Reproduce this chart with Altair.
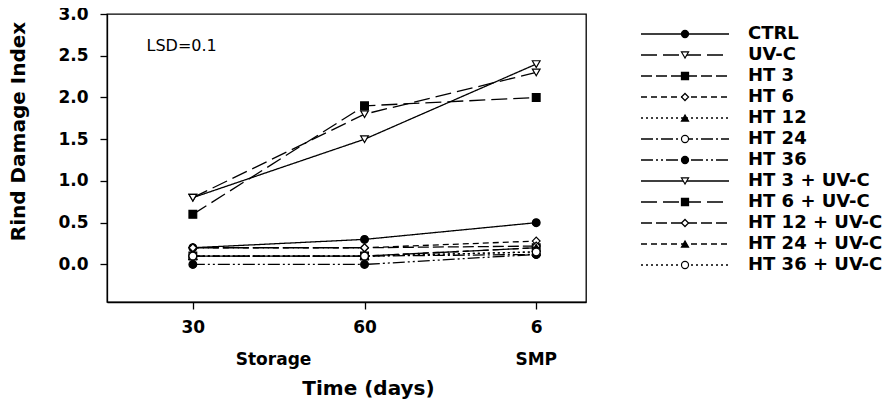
import altair as alt
import pandas as pd

# ---------------- data ----------------
series = ["CTRL", "UV-C", "HT 3", "HT 6", "HT 12", "HT 24", "HT 36",
          "HT 3 + UV-C", "HT 6 + UV-C", "HT 12 + UV-C", "HT 24 + UV-C", "HT 36 + UV-C"]
tick_labels = ["30", "60", "6"]
group_labels = ["Storage", "SMP"]

ctrl      = [0.20, 0.30, 0.50]
uvc       = [0.80, 1.80, 2.30]
ht3       = [0.10, 0.10, 0.20]
ht6       = [0.20, 0.20, 0.28]
ht12      = [0.10, 0.10, 0.15]
ht24      = [0.10, 0.10, 0.12]
ht36      = [0.00, 0.00, 0.12]
ht3_uvc   = [0.80, 1.50, 2.40]
ht6_uvc   = [0.60, 1.90, 2.00]
ht12_uvc  = [0.20, 0.20, 0.22]
ht24_uvc  = [0.10, 0.10, 0.20]
ht36_uvc  = [0.10, 0.10, 0.15]

values = [ctrl, uvc, ht3, ht6, ht12, ht24, ht36,
          ht3_uvc, ht6_uvc, ht12_uvc, ht24_uvc, ht36_uvc]

# ---------------- styles ----------------
dashes = [[1, 0], [16, 6], [11, 4], [6, 4], [2, 3], [12, 3, 2, 3], [12, 3, 2, 3, 2, 3],
          [1, 0], [16, 6], [11, 4], [6, 4], [2, 3]]
shapes = ["circle", "triangle-down", "square", "diamond", "triangle-up", "circle", "circle",
          "triangle-down", "square", "diamond", "triangle-up", "circle"]
fills = ["black", "white", "black", "white", "black", "white", "black",
         "white", "black", "white", "black", "white"]

FONT = "DejaVu Sans"

rows = []
for s, vals in zip(series, values):
    for i, v in enumerate(vals):
        rows.append({"series": s, "t": i, "value": v})
df = pd.DataFrame(rows)

dash_scale = alt.Scale(domain=series, range=dashes)
shape_scale = alt.Scale(domain=series, range=shapes)
fill_scale = alt.Scale(domain=series, range=fills)

label_expr = "datum.value == 0 ? '%s' : datum.value == 1 ? '%s' : '%s'" % tuple(tick_labels)

x_enc = alt.X("t:Q",
              scale=alt.Scale(domain=[-0.5, 2.29], nice=False, zero=False),
              axis=alt.Axis(values=[0, 1, 2], labelExpr=label_expr, title="Time (days)",
                            grid=False, tickSize=7, tickWidth=1.3, domainWidth=1.3,
                            domainColor="black", tickColor="black",
                            labelFont=FONT, labelFontSize=17, labelFontWeight="bold",
                            labelColor="black", labelPadding=10,
                            titleFont=FONT, titleFontSize=20, titleFontWeight="bold",
                            titleColor="black", titlePadding=43, titleX=261))
y_enc = alt.Y("value:Q",
              scale=alt.Scale(domain=[-0.45, 3.0], nice=False, zero=False),
              axis=alt.Axis(values=[0, 0.5, 1.0, 1.5, 2.0, 2.5, 3.0], format=".1f",
                            title="Rind Damage Index",
                            grid=False, tickSize=7, tickWidth=1.3, domainWidth=1.3,
                            domainColor="black", tickColor="black",
                            labelFont=FONT, labelFontSize=17, labelFontWeight="bold",
                            labelColor="black", labelPadding=12,
                            titleFont=FONT, titleFontSize=20, titleFontWeight="bold",
                            titleColor="black", titlePadding=29, titleY=117))

base = alt.Chart(df)

lines = base.mark_line(color="black", strokeWidth=1.3).encode(
    x=x_enc, y=y_enc, detail="series:N",
    strokeDash=alt.StrokeDash("series:N", scale=dash_scale, legend=None),
)

points = base.mark_point(filled=True, stroke="black", strokeWidth=1.2, opacity=1, size=60).encode(
    x="t:Q", y="value:Q",
    shape=alt.Shape("series:N", scale=shape_scale, legend=None),
    fill=alt.Fill("series:N", scale=fill_scale, legend=None),
)

grp_df = pd.DataFrame({"t": [0.47, 2.0], "value": [-1.14, -1.14], "label": group_labels})
grp_text = alt.Chart(grp_df).mark_text(font=FONT, fontSize=17, fontWeight="bold",
                                       color="black", baseline="middle").encode(
    x="t:Q", y="value:Q", text="label:N")

lsd_df = pd.DataFrame({"t": [-0.27], "value": [2.62], "label": ["LSD=0.1"]})
lsd_text = alt.Chart(lsd_df).mark_text(font=FONT, fontSize=16, color="black",
                                       align="left", baseline="middle").encode(
    x="t:Q", y="value:Q", text="label:N")

main = alt.layer(lines, points, grp_text, lsd_text).properties(
    width=479, height=288,
    view=alt.ViewBackground(stroke="black", strokeWidth=1.3),
)

# ---------------- legend panel ----------------
LX0, LX1, LXM, LXT = 44, 132, 88, 151
leg_df = pd.DataFrame({"series": series, "row": list(range(len(series)))})
leg_df["x0"] = LX0
leg_df["x1"] = LX1
leg_df["xm"] = LXM
leg_df["xt"] = LXT

lx_scale = alt.Scale(domain=[0, 290], nice=False, zero=False)
ly_scale = alt.Scale(domain=[-0.952, 12.762], nice=False, zero=False, reverse=True)

leg_base = alt.Chart(leg_df)
leg_lines = leg_base.mark_rule(color="black", strokeWidth=1.3).encode(
    x=alt.X("x0:Q", scale=lx_scale, axis=None), x2="x1:Q",
    y=alt.Y("row:Q", scale=ly_scale, axis=None),
    strokeDash=alt.StrokeDash("series:N", scale=dash_scale, legend=None),
)
leg_points = leg_base.mark_point(filled=True, stroke="black", strokeWidth=1.2, opacity=1, size=50).encode(
    x=alt.X("xm:Q", scale=lx_scale, axis=None),
    y=alt.Y("row:Q", scale=ly_scale, axis=None),
    shape=alt.Shape("series:N", scale=shape_scale, legend=None),
    fill=alt.Fill("series:N", scale=fill_scale, legend=None),
)
leg_text = leg_base.mark_text(font=FONT, fontSize=18, fontWeight="bold", color="black",
                              align="left", baseline="middle").encode(
    x=alt.X("xt:Q", scale=lx_scale, axis=None),
    y=alt.Y("row:Q", scale=ly_scale, axis=None),
    text="series:N",
)
legend = alt.layer(leg_lines, leg_points, leg_text).properties(
    width=290, height=288,
    view=alt.ViewBackground(stroke=None),
)

chart = alt.hconcat(main, legend, spacing=10).properties(
    padding={"left": 0, "top": -4, "right": 0, "bottom": 0}
).configure_view(stroke=None)

chart.save("out.html", embed_options={"renderer": "svg", "actions": False})
